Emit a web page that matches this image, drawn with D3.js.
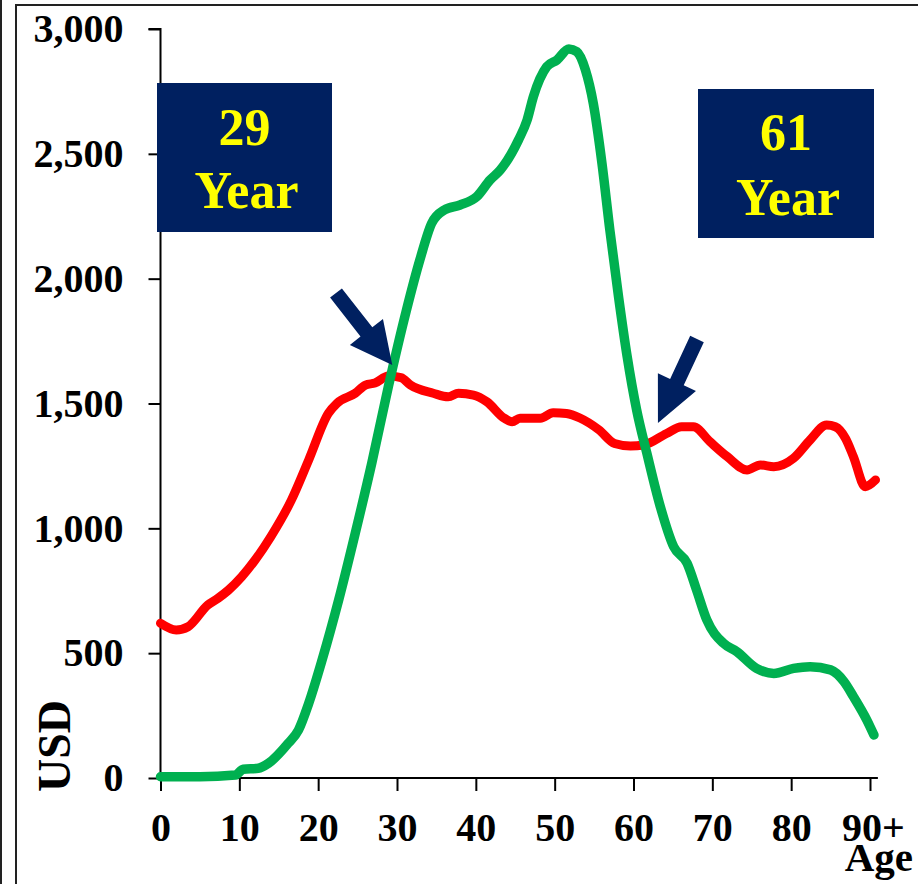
<!DOCTYPE html>
<html>
<head>
<meta charset="utf-8">
<script src="https://cdn.jsdelivr.net/npm/d3@7"></script>
<style>
  html, body { margin: 0; padding: 0; background: #fff; }
  svg { display: block; }
  text { font-family: "Liberation Serif", "Times New Roman", serif; font-weight: bold; }
</style>
</head>
<body>
<svg id="chart" width="918" height="884"></svg>
<script>
// ---- data ----
const redAges = [0, 2, 3.5, 6, 7.3, 8.6, 10.3, 12, 14, 16.6, 18.8, 21.3, 22.4, 24.7, 26, 27.2, 28.9, 30.5, 31.7, 34.6, 36.5, 37.8, 39.7, 41.4, 43.6, 44.6, 45.6, 48.2, 49.8, 51.5, 53.2, 55.6, 57.6, 59.6, 61.3, 64.2, 66.1, 67.6, 69.7, 71.9, 74.4, 76.1, 77.8, 80.3, 82.4, 84.5, 85.6, 86.9, 87.9, 89.4, 90.7];
const redValues = [620, 593, 606, 693, 720, 752, 806, 873, 967, 1113, 1274, 1461, 1501, 1541, 1574, 1582, 1610, 1604, 1574, 1541, 1527, 1541, 1534, 1507, 1441, 1427, 1441, 1441, 1463, 1460, 1442, 1395, 1340, 1330, 1334, 1380, 1407, 1407, 1347, 1287, 1234, 1254, 1247, 1281, 1354, 1414, 1407, 1360, 1287, 1167, 1194];

const greenAges = [0, 5, 9.5, 10.5, 12.4, 13.7, 16.2, 17.5, 18.8, 20.5, 22.6, 24.7, 26.8, 28.9, 31.2, 32.9, 34.4, 36, 38, 40.1, 41.8, 43.1, 45.4, 46.5, 47.3, 49, 50.3, 51.8, 52.8, 53.9, 54.9, 56, 57, 58.1, 59.2, 60.4, 61.7, 63.4, 65.1, 66.8, 68, 69.3, 71.4, 73.1, 75.6, 77.8, 80.3, 82.4, 85, 86.7, 87.9, 89.6, 90.5];
const greenValues = [5, 5, 12, 35, 39, 59, 139, 192, 299, 473, 713, 980, 1261, 1567, 1874, 2075, 2222, 2275, 2295, 2328, 2395, 2435, 2555, 2635, 2729, 2849, 2876, 2920, 2909, 2836, 2702, 2462, 2195, 1928, 1687, 1474, 1300, 1087, 926, 860, 753, 633, 540, 506, 439, 419, 439, 446, 433, 386, 326, 232, 172];

const xTicks = [0, 10, 20, 30, 40, 50, 60, 70, 80, 90];
const xTickLabels = ["0", "10", "20", "30", "40", "50", "60", "70", "80", "90+"];
const yTicks = [0, 500, 1000, 1500, 2000, 2500, 3000];

const boxLines1 = ["29", "Year"];
const boxLines2 = ["61", "Year"];
const xTitle = "Age";
const yTitle = "USD";

// ---- layout ----
const svg = d3.select("#chart");
const x = d3.scaleLinear().domain([0, 90]).range([160.5, 870]);
const y = d3.scaleLinear().domain([0, 3000]).range([778, 29]);

// frame lines
svg.append("line").attr("x1", 1).attr("x2", 1).attr("y1", 0).attr("y2", 884)
  .attr("stroke", "#222").attr("stroke-width", 2);
svg.append("path").attr("d", "M16,884 L16,5 L918,5")
  .attr("fill", "none").attr("stroke", "#222").attr("stroke-width", 2);

// axes
const fmt = d3.format(",");
const yAxis = d3.axisLeft(y).tickValues(yTicks).tickFormat(fmt).tickSize(12).tickPadding(25);
const gy = svg.append("g").attr("transform", `translate(${x(0)},0)`).call(yAxis);
gy.select(".domain").attr("d", `M-12,${y(3000)}H0V${y(0)}`).attr("stroke", "#000").attr("stroke-width", 2);
gy.selectAll(".tick line").attr("stroke", "#000").attr("stroke-width", 2);
gy.selectAll(".tick text").attr("font-size", 40).attr("fill", "#000")
  .attr("font-family", "Liberation Serif, Times New Roman, serif").attr("font-weight", "bold");

const xAxis = d3.axisBottom(x).tickValues(xTicks).tickFormat((d, i) => xTickLabels[i]).tickSize(13).tickPadding(22);
const gx = svg.append("g").attr("transform", `translate(0,${y(0)})`).call(xAxis);
gx.select(".domain").attr("d", `M${x(0)},0H${x(91)}`).attr("stroke", "#000").attr("stroke-width", 2);
gx.selectAll(".tick line").attr("stroke", "#000").attr("stroke-width", 2);
gx.selectAll(".tick text").attr("font-size", 40).attr("fill", "#000")
  .attr("font-family", "Liberation Serif, Times New Roman, serif").attr("font-weight", "bold");
gx.selectAll(".tick").filter(d => d === 90).select("text").attr("dx", 3);

// titles
svg.append("text").attr("x", 913).attr("y", 871).attr("text-anchor", "end")
  .attr("font-size", 41).attr("fill", "#000").text(xTitle);
svg.append("text").attr("transform", "translate(70,746) rotate(-90)").attr("text-anchor", "middle")
  .attr("font-size", 46).attr("fill", "#000").text(yTitle);

// lines
const line = d3.line().x(d => x(d[0])).y(d => y(d[1])).curve(d3.curveMonotoneX);
const redData = redAges.map((a, i) => [a, redValues[i]]);
const greenData = greenAges.map((a, i) => [a, greenValues[i]]);

svg.append("path").datum(redData).attr("d", line)
  .attr("fill", "none").attr("stroke", "#FF0000").attr("stroke-width", 9)
  .attr("stroke-linejoin", "round").attr("stroke-linecap", "round");
svg.append("path").datum(greenData).attr("d", line)
  .attr("fill", "none").attr("stroke", "#00B050").attr("stroke-width", 9.5)
  .attr("stroke-linejoin", "round").attr("stroke-linecap", "round");

// boxes
function box(x0, y0, w, h, lines, b1, b2) {
  svg.append("rect").attr("x", x0).attr("y", y0).attr("width", w).attr("height", h).attr("fill", "#002060");
  svg.append("text").attr("x", x0 + w / 2).attr("y", b1).attr("text-anchor", "middle")
    .attr("font-size", 52).attr("fill", "#FFFF00").text(lines[0]);
  svg.append("text").attr("x", x0 + w / 2 + 2).attr("y", b2).attr("text-anchor", "middle")
    .attr("font-size", 52).attr("fill", "#FFFF00").text(lines[1]);
}
box(157, 83, 175, 149, boxLines1, 145, 208);
box(698, 89, 176, 149, boxLines2, 150, 215);

// arrows
function arrow(tail, tip, shaftW, headW, headL) {
  const dx = tip[0] - tail[0], dy = tip[1] - tail[1];
  const L = Math.hypot(dx, dy);
  const ux = dx / L, uy = dy / L, px = -uy, py = ux;
  const bx = tip[0] - ux * headL, by = tip[1] - uy * headL;
  const pts = [
    [tail[0] + px * shaftW / 2, tail[1] + py * shaftW / 2],
    [bx + px * shaftW / 2, by + py * shaftW / 2],
    [bx + px * headW / 2, by + py * headW / 2],
    tip,
    [bx - px * headW / 2, by - py * headW / 2],
    [bx - px * shaftW / 2, by - py * shaftW / 2],
    [tail[0] - px * shaftW / 2, tail[1] - py * shaftW / 2]
  ];
  svg.append("path").attr("d", "M" + pts.map(p => p.join(",")).join("L") + "Z").attr("fill", "#002060");
}
arrow([336, 293], [x(29.4), y(1654)], 15, 42, 42);
arrow([697, 339], [x(63.1), y(1422)], 15, 42, 45);
</script>
</body>
</html>
